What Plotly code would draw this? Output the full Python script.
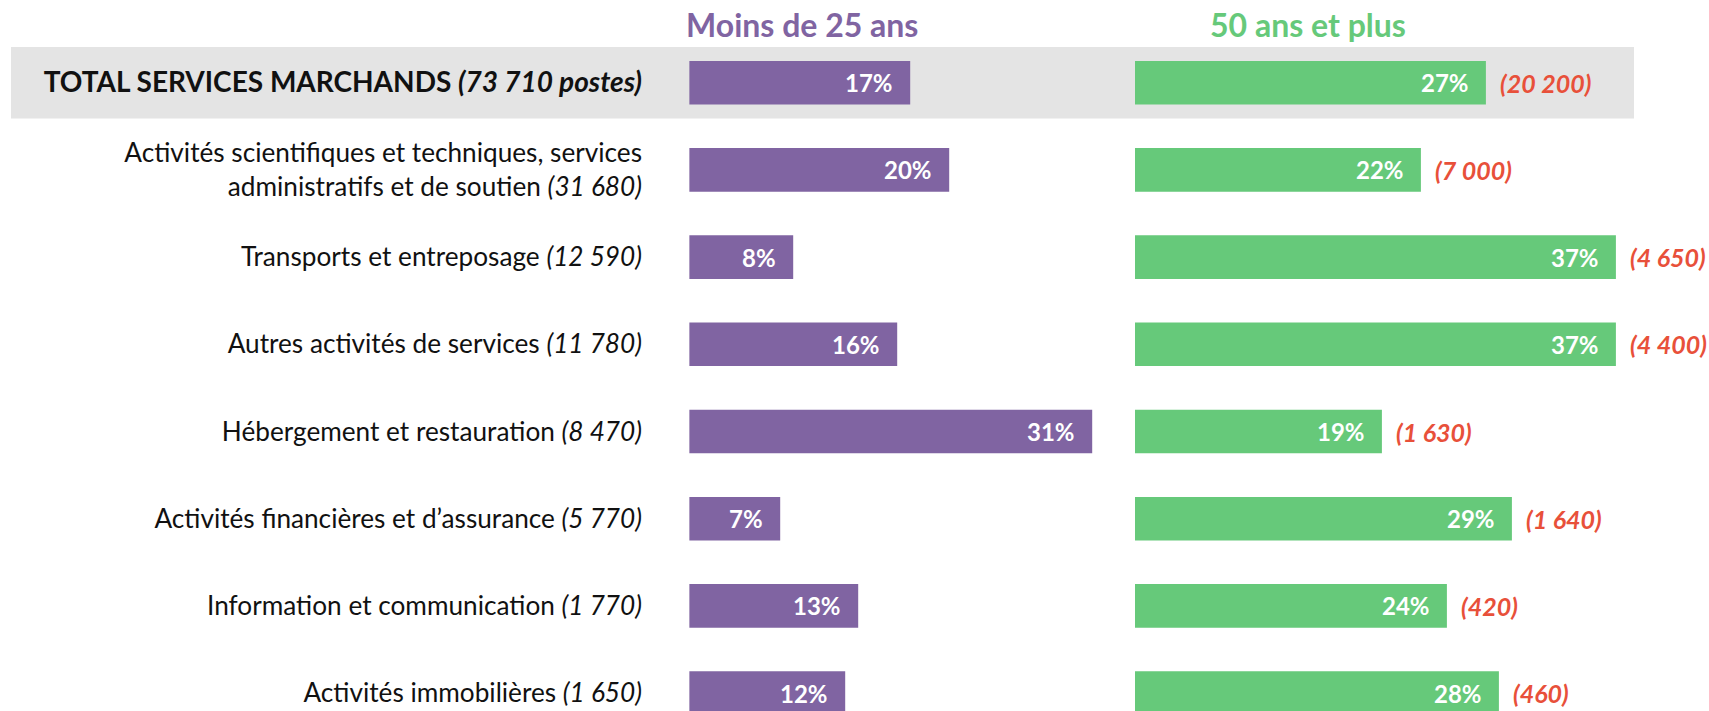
import plotly.graph_objects as go

# Sectors, headcount (postes) and shares of the two age groups
sectors = [
    "TOTAL SERVICES MARCHANDS",
    "Activités scientifiques et techniques, services<br>administratifs et de soutien",
    "Transports et entreposage",
    "Autres activités de services",
    "Hébergement et restauration",
    "Activités financières et d\u2019assurance",
    "Information et communication",
    "Activités immobilières",
]
postes = ["73 710 postes", "31 680", "12 590", "11 780", "8 470", "5 770", "1 770", "1 650"]
moins_25 = [17, 20, 8, 16, 31, 7, 13, 12]
plus_50 = [27, 22, 37, 37, 19, 29, 24, 28]
effectif_50 = ["20 200", "7 000", "4 650", "4 400", "1 630", "1 640", "420", "460"]

PURPLE = "#8064A2"
GREEN = "#66C97A"
RED = "#E8503A"
W, H = 1709, 711
PX_PER_PCT = 13.0

rows = list(range(len(sectors)))

tick_text = []
for i, (s, p) in enumerate(zip(sectors, postes)):
    if i == 0:
        tick_text.append(f"<span style='font-size:28px'><b>{s} <i>({p})</i></b></span>")
    else:
        tick_text.append(f"{s} <i>({p})</i>")

fig = go.Figure()
fig.add_trace(go.Bar(
    x=moins_25, y=rows, orientation="h", width=0.5,
    marker=dict(color=PURPLE, line=dict(width=0)),
    xaxis="x", yaxis="y", hoverinfo="skip",
))
fig.add_trace(go.Bar(
    x=plus_50, y=rows, orientation="h", width=0.5,
    marker=dict(color=GREEN, line=dict(width=0)),
    xaxis="x2", yaxis="y", hoverinfo="skip",
))

annotations = []
for i in rows:
    annotations.append(dict(
        x=moins_25[i], y=i, xref="x", yref="y", text=f"<b>{moins_25[i]}%</b>",
        xanchor="right", yanchor="middle", xshift=-15, showarrow=False,
        font=dict(family="Lato", size=24, color="white"),
    ))
    annotations.append(dict(
        x=plus_50[i], y=i, xref="x2", yref="y", text=f"<b>{plus_50[i]}%</b>",
        xanchor="right", yanchor="middle", xshift=-15, showarrow=False,
        font=dict(family="Lato", size=24, color="white"),
    ))
    annotations.append(dict(
        x=plus_50[i], y=i, xref="x2", yref="y", text=f"<b><i>({effectif_50[i]})</i></b>",
        xanchor="left", yanchor="middle", xshift=12, showarrow=False,
        font=dict(family="Lato", size=25, color=RED),
    ))

# Column headers
annotations.append(dict(
    x=802 / W, y=1 - 25 / H, xref="paper", yref="paper", text="<b>Moins de 25 ans</b>",
    xanchor="center", yanchor="middle", showarrow=False,
    font=dict(family="Lato", size=32, color=PURPLE),
))
annotations.append(dict(
    x=1308 / W, y=1 - 25 / H, xref="paper", yref="paper", text="<b>50 ans et plus</b>",
    xanchor="center", yanchor="middle", showarrow=False,
    font=dict(family="Lato", size=32, color=GREEN),
))

x1_lo, x1_hi = 689.2, 1120.0
x2_lo, x2_hi = 1134.9, 1709.0

fig.update_layout(
    width=W, height=H,
    margin=dict(l=0, r=0, t=0, b=0),
    paper_bgcolor="white", plot_bgcolor="rgba(0,0,0,0)",
    showlegend=False, barmode="overlay",
    xaxis=dict(domain=[x1_lo / W, x1_hi / W], range=[0, (x1_hi - x1_lo) / PX_PER_PCT],
               visible=False, fixedrange=True),
    xaxis2=dict(domain=[x2_lo / W, x2_hi / W], range=[0, (x2_hi - x2_lo) / PX_PER_PCT],
                visible=False, fixedrange=True, anchor="y"),
    yaxis=dict(
        range=[(H - 82.7) / 87.2, -82.7 / 87.2],
        tickmode="array", tickvals=rows, ticktext=tick_text,
        showgrid=False, zeroline=False, showline=False, ticks="",
        anchor="free", position=642 / W,
        tickfont=dict(family="Lato", size=26.2, color="#111111"),
        fixedrange=True,
    ),
    shapes=[dict(
        type="rect", xref="paper", yref="y", layer="below",
        x0=11 / W, x1=1634 / W, y0=-0.41, y1=0.41,
        fillcolor="#E4E4E4", line=dict(width=0),
    )],
    annotations=annotations,
)

fig.write_html("out.html")
